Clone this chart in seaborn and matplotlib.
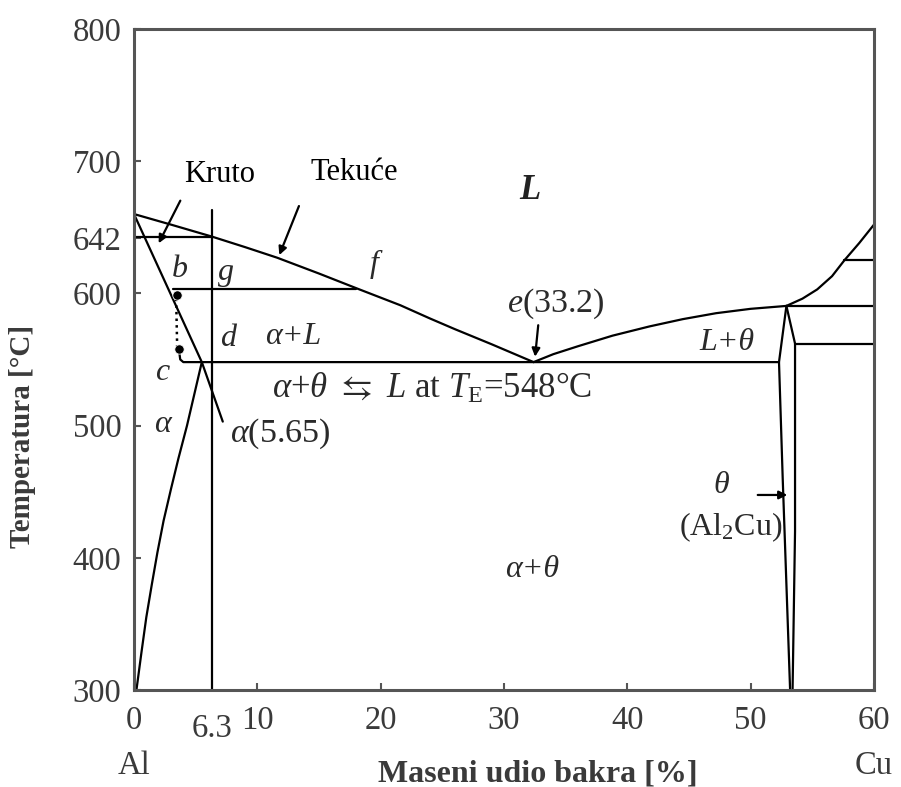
import matplotlib
matplotlib.use("Agg")
import matplotlib.pyplot as plt
import seaborn as sns
import pandas as pd

# phase boundaries (mas. % Cu, deg C)
liq_al_x = [0, 3, 6.3, 9, 11.6, 15, 18, 21.6, 24, 26, 29, 32.4]
liq_al_t = [660, 652, 643, 635, 627, 615, 604, 591, 581, 573, 561.5, 548]
liq_cu_x = [32.4, 34, 36, 38.8, 41.8, 44.5, 47.2, 50, 52.9]
liq_cu_t = [548, 554, 560, 568, 575, 580.5, 585, 588.3, 590.5]
liq_top_x = [52.9, 54.2, 55.4, 56.6, 57.6, 58.8, 60]
liq_top_t = [590.5, 596, 603, 613, 625, 638, 652]
solidus_x = [0, 5.5, 7.2]
solidus_t = [660, 548, 503]
solvus_x = [5.5, 4.8, 4.3, 3.6, 3.0, 2.4, 1.9, 1.45, 1.0, 0.6, 0.2]
solvus_t = [548, 520, 500, 475, 452, 428, 404, 380, 355, 328, 300]
theta_l_x = [52.9, 52.3, 52.6, 53.2]
theta_l_t = [590.5, 548, 460, 300]
theta_r_x = [52.9, 53.6, 53.6, 53.4]
theta_r_t = [590.5, 562, 420, 300]
eut_x = [3.65, 3.75, 4.0, 52.3]
eut_t = [557, 550, 548, 548]
tie642_x = [0, 6.3]
tie642_t = [643, 643]
tie603_x = [3.2, 18]
tie603_t = [603, 603]
alloy_x = [6.3, 6.3]
alloy_t = [300, 663]
r591_x = [52.9, 60]
r591_t = [590.5, 590.5]
r562_x = [53.6, 60]
r562_t = [562, 562]
r625_x = [57.6, 60]
r625_t = [625, 625]

bc_x = [3.42, 3.5]
bc_t = [596, 560]
pts_x = [3.46, 3.65]
pts_t = [599, 558]

yticks = [300, 400, 500, 600, 642, 700, 800]
xticks = [0, 10, 20, 30, 40, 50, 60]

segs = {
    "liq_al": (liq_al_x, liq_al_t), "liq_cu": (liq_cu_x, liq_cu_t),
    "liq_top": (liq_top_x, liq_top_t), "solidus": (solidus_x, solidus_t),
    "solvus": (solvus_x, solvus_t), "theta_l": (theta_l_x, theta_l_t),
    "theta_r": (theta_r_x, theta_r_t), "eut": (eut_x, eut_t),
    "t642": (tie642_x, tie642_t), "t603": (tie603_x, tie603_t),
    "alloy": (alloy_x, alloy_t), "r591": (r591_x, r591_t),
    "r562": (r562_x, r562_t), "r625": (r625_x, r625_t),
}
df = pd.concat([pd.DataFrame({"x": x, "T": t, "seg": k}) for k, (x, t) in segs.items()],
               ignore_index=True)

sns.set_theme(style="ticks")
plt.rcParams['font.family'] = ['Liberation Serif', 'DejaVu Serif']
plt.rcParams['mathtext.fontset'] = 'custom'
plt.rcParams['mathtext.rm'] = 'Liberation Serif'
plt.rcParams['mathtext.it'] = 'Liberation Serif:italic'
plt.rcParams['mathtext.bf'] = 'Liberation Serif:bold'

fig = plt.figure(figsize=(9.01, 7.87), dpi=100)
ax = fig.add_axes([0.1487, 0.1233, 0.8213, 0.8399])

sns.lineplot(data=df, x="x", y="T", units="seg", estimator=None, sort=False,
             color="black", lw=1.6, ax=ax)
sns.lineplot(x=bc_x, y=bc_t, color="black", lw=1.8, ls=":", ax=ax)
sns.scatterplot(x=pts_x, y=pts_t, color="black", s=45, ax=ax, zorder=5)

ax.set_xlim(0, 60)
ax.set_ylim(300, 800)
ax.set_xticks(xticks)
ax.set_yticks(yticks)
ax.tick_params(direction="in", length=5, width=1.5, colors="#555555",
               labelsize=23.5, labelcolor="#3a3a3a")
ax.tick_params(axis="y", pad=9)
ax.tick_params(axis="x", pad=11)
for s in ax.spines.values():
    s.set_linewidth(2.2)
    s.set_color("#555555")

ax.set_xlabel("Maseni udio bakra [%]", fontsize=23, fontweight="bold", color="#3a3a3a")
ax.set_ylabel("Temperatura [°C]", fontsize=21, fontweight="bold", color="#3a3a3a")
ax.xaxis.set_label_coords(0.546, -0.105)
ax.yaxis.set_label_coords(-0.133, 0.383)

tk = dict(fontsize=23.5, color="#3a3a3a", ha="center", va="center")
ax.text(6.3, -0.058, "6.3", transform=ax.get_xaxis_transform(), **tk)
ax.text(0, -0.115, "Al", transform=ax.get_xaxis_transform(), **tk)
ax.text(60, -0.115, "Cu", transform=ax.get_xaxis_transform(), **tk)

ax.text(4.1, 684.5, "Kruto", fontsize=22, color="black", ha="left", va="baseline")
ax.text(14.3, 686, "Tekuće", fontsize=22, color="black", ha="left", va="baseline")
ax.text(32.1, 678, "L", fontsize=25, fontweight="bold", style="italic", color="#222222",
        ha="center", va="center")

lab = dict(fontsize=23, color="#2a2a2a", ha="center", va="center", style="italic")
ax.text(3.73, 618, "b", **lab)
ax.text(7.5, 616, "g", **lab)
ax.text(19.5, 622, "f", **lab)
ax.text(7.66, 565.5, "d", **lab)
ax.text(2.3, 540, "c", **lab)
ax.text(2.3, 500.5, "α", **lab)
ax.text(12.9, 567, "α+L", **lab)
ax.text(48.1, 562.5, "L+θ", **lab)
ax.text(47.6, 455, "θ", **lab)
ax.text(32.3, 391, "α+θ", **lab)
ax.text(34.2, 592, r"$e$(33.2)", fontsize=24.5, color="#2a2a2a", ha="center", va="center")
ax.text(7.8, 494, r"$\alpha$(5.65)", fontsize=24.5, color="#2a2a2a", ha="left", va="center")
ax.text(48.4, 423, r"(Al$_2$Cu)", fontsize=23, color="#2a2a2a", ha="center", va="center")
ax.text(11.2, 528, r"$\alpha$+$\theta$ $\leftrightarrows$ $L$ at $T_{\rm E}$=548°C",
        fontsize=25, color="#2a2a2a", ha="left", va="center")

arr = dict(arrowstyle="-|>", color="black", lw=1.6, mutation_scale=12)
ax.annotate("", xy=(1.9, 636), xytext=(3.86, 672), arrowprops=arr)
ax.annotate("", xy=(11.7, 627), xytext=(13.46, 668), arrowprops=arr)
ax.annotate("", xy=(32.5, 550), xytext=(32.8, 578), arrowprops=arr)
ax.annotate("", xy=(53.2, 447.5), xytext=(50.35, 447.5), arrowprops=arr)

fig.savefig("out.png", dpi=100)
